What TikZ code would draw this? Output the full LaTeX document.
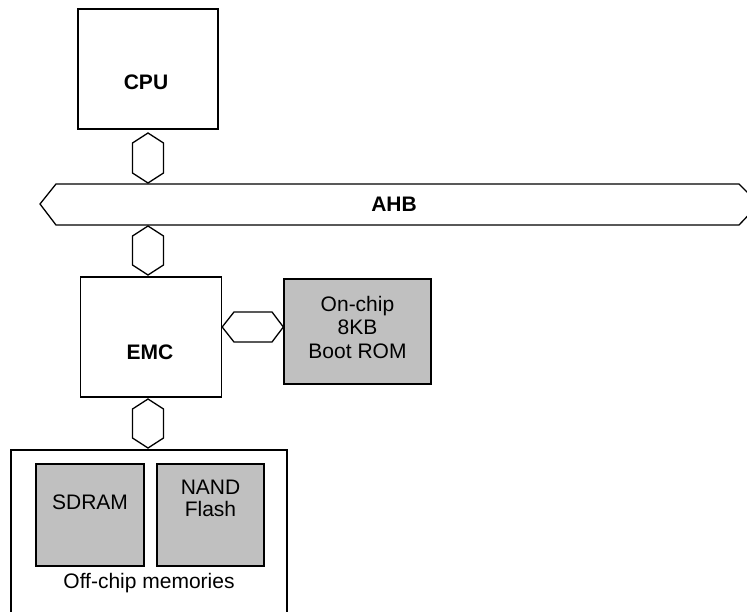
\documentclass[tikz,border=0pt]{standalone}
\usepackage{fontspec}
\setmainfont{Liberation Sans}
\definecolor{memgray}{RGB}{192,192,192}
\begin{document}
\begin{tikzpicture}[x=1pt,y=-1pt,line width=1.3pt,line join=miter,
  box/.style={draw=black,fill=white,inner sep=0pt},
  membox/.style={draw=black,fill=memgray,inner sep=0pt},
  lbl/.style={inner sep=0pt,align=center,font=\fontsize{21}{23.5}\selectfont},
  blbl/.style={lbl,font=\fontsize{21}{23.5}\selectfont\bfseries},
  hexc/.style={draw=black,fill=white}]
\useasboundingbox (0,0) rectangle (747,611);
\clip (0,0) rectangle (747,611);
% boxes
\node[box,minimum width=140pt,minimum height=120pt] (cpu) at (148,69) {};
\node[blbl] (cputxt) at (146,82) {CPU};
\node[box,minimum width=141pt,minimum height=120pt] (emc) at (151,337) {};
\node[blbl] (emctxt) at (150,352) {EMC};
\node[membox,minimum width=147pt,minimum height=105pt] (rom) at (357.5,331.5) {};
\node[lbl] (romtxt) at (357.5,327) {On-chip\\8KB\\Boot ROM};
\node[box,minimum width=276pt,minimum height=200pt] (off) at (149,550) {};
\node[membox,minimum width=108pt,minimum height=102pt] (sdram) at (90,515) {};
\node[lbl] (sdramtxt) at (90,502) {SDRAM};
\node[membox,minimum width=107pt,minimum height=102pt] (nand) at (210.5,515) {};
\node[lbl,font=\fontsize{21}{22}\selectfont] (nandtxt) at (210.5,498) {NAND\\Flash};
\node[lbl] (offtxt) at (149,583) {Off-chip memories};
% bus
\draw[hexc] (56,184) -- (739,184) -- (759,204) -- (739,225) -- (56,225) -- (40,204) -- cycle;
\node[blbl] (ahb) at (394,204) {AHB};
% vertical hex connectors
\newcommand\vhexa[3]{\draw[hexc] (#1,#2) -- (#1+15.5,#2+10) -- (#1+15.5,#3-10) -- (#1,#3) -- (#1-15.5,#3-10) -- (#1-15.5,#2+10) -- cycle;}
\vhexa{148}{133}{183}
\vhexa{148}{226}{275}
\vhexa{148}{399}{448}
% horizontal hex connector
\draw[hexc] (emc.east |- 0,327) -- (234,312) -- (272,312) -- (rom.west |- 0,327) -- (272,342) -- (234,342) -- cycle;
\end{tikzpicture}
\end{document}
